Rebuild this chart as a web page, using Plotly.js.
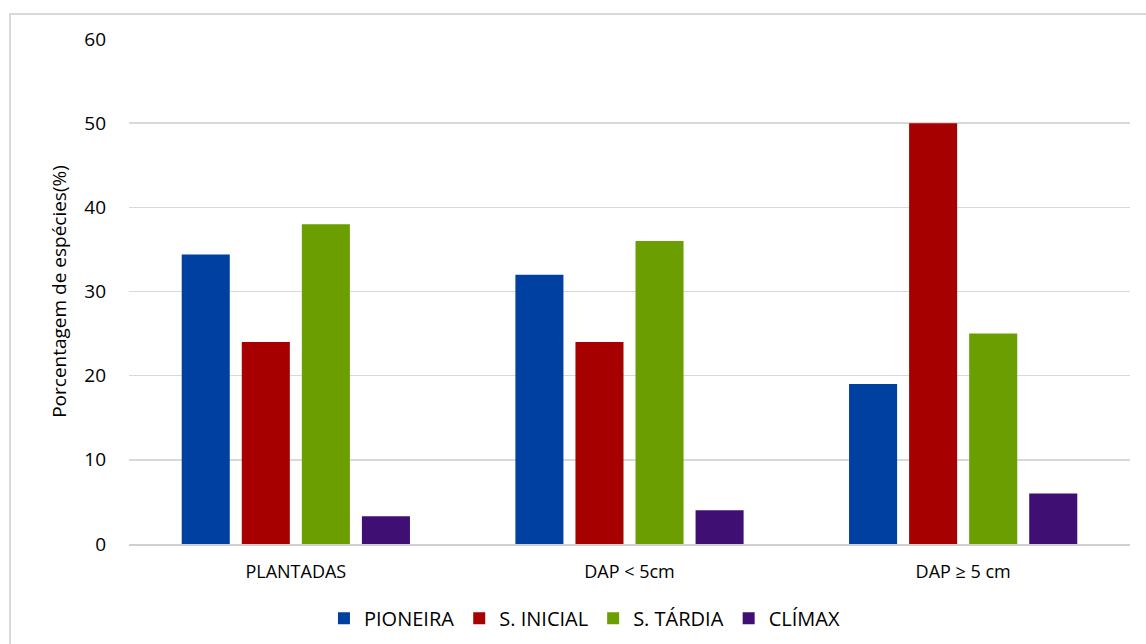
<!DOCTYPE html>
<html>
<head>
<meta charset="utf-8">
<script src="https://cdn.plot.ly/plotly-3.0.1.min.js"></script>
<style>
html,body{margin:0;padding:0;background:#fff;}
#wrap{position:relative;width:1146px;height:644px;overflow:hidden;}
#chart{position:absolute;left:0;top:0;width:1146px;height:644px;}
#frame{position:absolute;left:9px;top:13px;width:1160px;height:660px;border:2px solid #d9d9d9;box-sizing:border-box;pointer-events:none;}
</style>
</head>
<body>
<div id="wrap"><div id="chart"></div><div id="frame"></div></div>
<script>
const categories = ["PLANTADAS", "DAP < 5cm", "DAP ≥ 5 cm"];
const seriesNames = ["PIONEIRA", "S. INICIAL", "S. TÁRDIA", "CLÍMAX"];
const pioneira = [34.4, 32, 19];
const sInicial = [24, 24, 50];
const sTardia = [38, 36, 25];
const climax = [3.3, 4, 6];
const yTicks = [0, 10, 20, 30, 40, 50, 60];

const colors = ["#0040A0", "#A60000", "#6B9E00", "#3F0F73"];
const values = [pioneira, sInicial, sTardia, climax];
const traces = seriesNames.map((n, i) => ({
  type: "bar", name: n, x: categories, y: values[i],
  marker: {color: colors[i], line: {width: 0}}
}));

const layout = {
  width: 1146, height: 644,
  margin: {l: 129, r: 16, t: 39, b: 100},
  paper_bgcolor: "#fff", plot_bgcolor: "#fff",
  barmode: "group", bargap: 0.28, bargroupgap: 0.2,
  font: {family: "Open Sans, sans-serif", color: "#000", size: 18},
  xaxis: {
    tickfont: {size: 18}, showgrid: false, showline: true, linecolor: "#d0d0d0", linewidth: 2,
    ticks: "", ticklabelstandoff: 10, automargin: false
  },
  yaxis: {
    range: [0, 60], tickvals: yTicks, ticktext: yTicks.map(String),
    showgrid: true, gridcolor: "#d9d9d9", gridwidth: 1.5, zeroline: false,
    showline: false, ticks: "", tickfont: {size: 19}, ticklabelstandoff: 22, automargin: false,
    title: {text: "Porcentagem de espécies(%)", font: {size: 19}, standoff: 12}
  },
  legend: {orientation: "h", x: 0.455, xanchor: "center", yref: "container", y: 0.04, yanchor: "middle",
    font: {size: 20}, itemwidth: 30, tracegroupgap: 0},
  showlegend: true
};
Plotly.newPlot("chart", traces, layout, {displayModeBar: false, staticPlot: true});
</script>
</body>
</html>
